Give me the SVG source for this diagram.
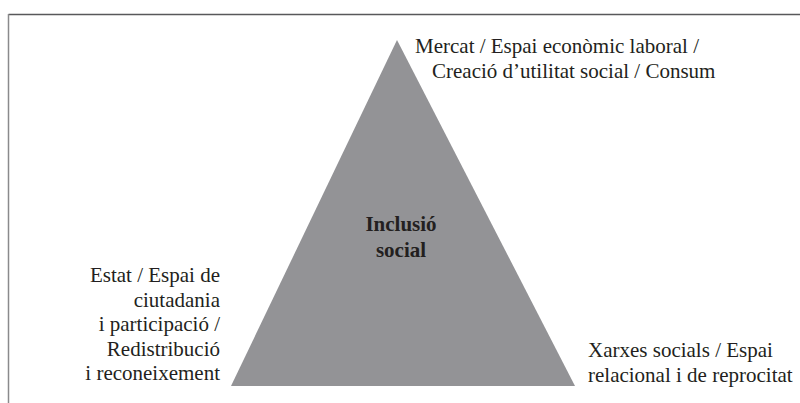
<svg xmlns="http://www.w3.org/2000/svg" width="800" height="403" viewBox="0 0 800 403">
<style>
.t{font-family:'Liberation Serif','Times New Roman',serif;font-size:21px;fill:#231f20}
.b{font-family:'Liberation Serif','Times New Roman',serif;font-size:21px;font-weight:bold;fill:#231f20;text-anchor:middle}
.r{text-anchor:end}
</style>
<rect width="800" height="403" fill="#ffffff"/>
<g id="frame">
<line x1="8.5" y1="14.5" x2="800" y2="14.5" stroke="#58585a" stroke-width="1.5"/>
<line x1="8.5" y1="14" x2="8.5" y2="403" stroke="#8a8a8c" stroke-width="1.5"/>
</g>
<g id="triangle">
<polygon points="397,40 231,386 575,386" fill="#939396"/>
<text class="b" x="401" y="231">Inclusió</text>
<text class="b" x="401" y="257">social</text>
</g>
<g id="top-label">
<text class="t" x="415" y="53">Mercat / Espai econòmic laboral /</text>
<text class="t" x="432" y="78">Creació d’utilitat social / Consum</text>
</g>
<g id="left-label">
<text class="t r" x="220" y="282">Estat / Espai de</text>
<text class="t r" x="220" y="306.5">ciutadania</text>
<text class="t r" x="220" y="331">i participació /</text>
<text class="t r" x="220" y="355.5">Redistribució</text>
<text class="t r" x="220" y="380">i reconeixement</text>
</g>
<g id="right-label">
<text class="t" x="588" y="357">Xarxes socials / Espai</text>
<text class="t" x="588" y="381.5">relacional i de reprocitat</text>
</g>
<g id="connectors"></g>
</svg>
